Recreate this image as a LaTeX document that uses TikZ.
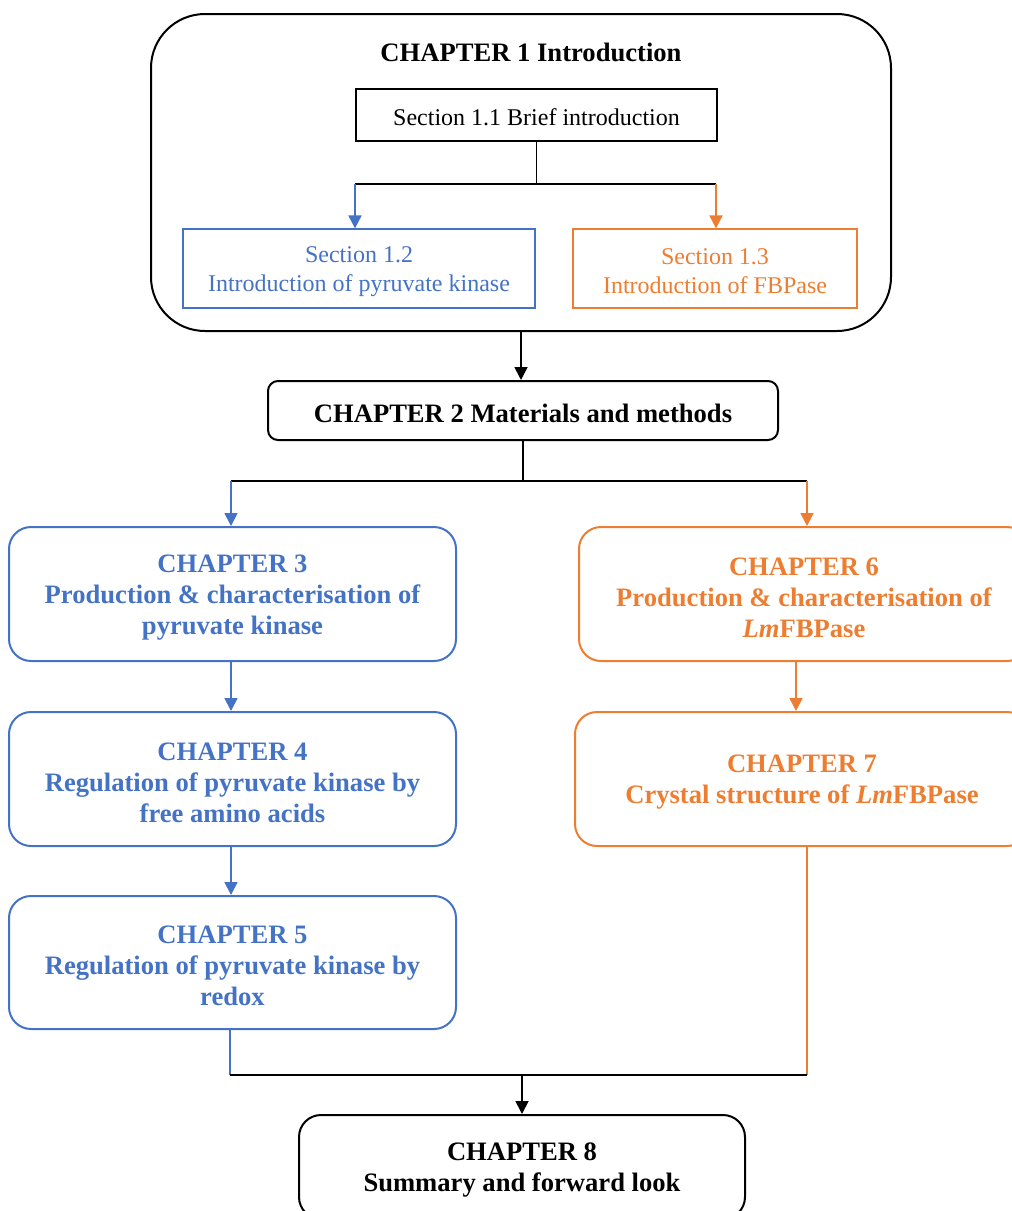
\documentclass[tikz,border=0pt]{standalone}
\usepackage{fontspec}
\setmainfont{Liberation Serif}
\usepackage{tikz}
\usetikzlibrary{arrows.meta, positioning}
\definecolor{pkblue}{RGB}{68,114,196}
\definecolor{fbporange}{RGB}{237,125,49}
\newcommand{\lift}{\rule{0pt}{0.92em}}

\begin{document}
\begin{tikzpicture}[x=0.5pt, y=-0.5pt,
    chapbox/.style={draw, line width=1pt, rounded corners=11pt, align=center,
        font=\fontsize{13.3}{15.5}\selectfont\bfseries, inner sep=2pt},
    secbox/.style={draw, line width=0.6pt, align=center,
        font=\fontsize{12}{14.5}\selectfont, inner sep=2pt},
    link/.style={line width=0.9pt},
    arr/.style={link, -{Triangle[length=6.5pt, width=6.5pt]}}]
    \useasboundingbox (0,0) rectangle (1012,1211);
    \clip (0,0) rectangle (1012,1211);

    % Chapter 1 frame
    \node[chapbox, rounded corners=27pt, minimum width=370pt, minimum height=158.5pt] (ch1) at (521,172.5) {};
    \node[font=\fontsize{13.3}{15.5}\selectfont\bfseries] (ch1title) at (531,52) {CHAPTER 1 Introduction};

    % Sections
    \node[secbox, minimum width=180.5pt, minimum height=26pt] (sec11) at (536.5,115) {\lift Section 1.1 Brief introduction};
    \node[secbox, pkblue, minimum width=176pt, minimum height=39.5pt] (sec12) at (359,268.5) {\lift Section 1.2\\Introduction of pyruvate kinase};
    \node[secbox, fbporange, minimum width=142pt, minimum height=39.5pt] (sec13) at (715,268.5) {\lift Section 1.3\\Introduction of FBPase};

    \coordinate (s1) at (355,184);
    \coordinate (s2) at (716,184);
    \draw[line width=0.6pt] (sec11.south) -- (sec11.south |- s1);
    \draw[line width=0.6pt] (s1) -- (s2);
    \draw[arr, pkblue] (s1) -- (s1 |- sec12.north);
    \draw[arr, fbporange] (s2) -- (s2 |- sec13.north);

    % Chapter 2
    \node[chapbox, rounded corners=5pt, minimum width=255pt, minimum height=29.5pt] (ch2) at (523,410.5) {\lift CHAPTER 2 Materials and methods};
    \draw[arr] (ch1.south) -- (ch1.south |- ch2.north);

    \coordinate (t1) at (231,481);
    \coordinate (t2) at (807,481);
    \draw[link] (ch2.south) -- (ch2.south |- t1);
    \draw[link] (t1) -- (t2);

    % Pyruvate kinase branch
    \node[chapbox, pkblue, minimum width=223.5pt, minimum height=67pt] (ch3) at (232.5,594) {\lift CHAPTER 3\\Production \& characterisation of\\pyruvate kinase};
    \node[chapbox, pkblue, minimum width=223.5pt, minimum height=67pt] (ch4) at (232.5,779) {\lift CHAPTER 4\\Regulation of pyruvate kinase by\\free amino acids};
    \node[chapbox, pkblue, minimum width=223.5pt, minimum height=66.5pt] (ch5) at (232.5,962.5) {\lift CHAPTER 5\\Regulation of pyruvate kinase by\\redox};
    \draw[arr, pkblue] (t1) -- (t1 |- ch3.north);
    \draw[arr, pkblue] (ch3.south -| t1) -- (ch4.north -| t1);
    \draw[arr, pkblue] (ch4.south -| t1) -- (ch5.north -| t1);

    % FBPase branch
    \node[chapbox, fbporange, minimum width=225pt, minimum height=67pt] (ch6) at (804,594) {\lift CHAPTER 6\\Production \& characterisation of\\\textit{Lm}FBPase};
    \node[chapbox, fbporange, minimum width=227pt, minimum height=67pt] (ch7) at (802,779) {\lift CHAPTER 7\\Crystal structure of \textit{Lm}FBPase};
    \draw[arr, fbporange] (t2) -- (t2 |- ch6.north);
    \draw[arr, fbporange] ([xshift=-4pt]ch6.south) -- ([xshift=-4pt]ch6.south |- ch7.north);

    % Chapter 8
    \node[chapbox, minimum width=223pt, minimum height=52pt] (ch8) at (522,1167) {\lift CHAPTER 8\\Summary and forward look};

    \coordinate (b1) at (230,1075);
    \coordinate (b2) at (807,1075);
    \draw[link, pkblue] (b1 |- ch5.south) -- (b1);
    \draw[link, fbporange] (b2 |- ch7.south) -- (b2);
    \draw[line width=1.4pt] (b1) -- (b2);
    \draw[arr] (ch8.north |- b1) -- (ch8.north);
\end{tikzpicture}
\end{document}
